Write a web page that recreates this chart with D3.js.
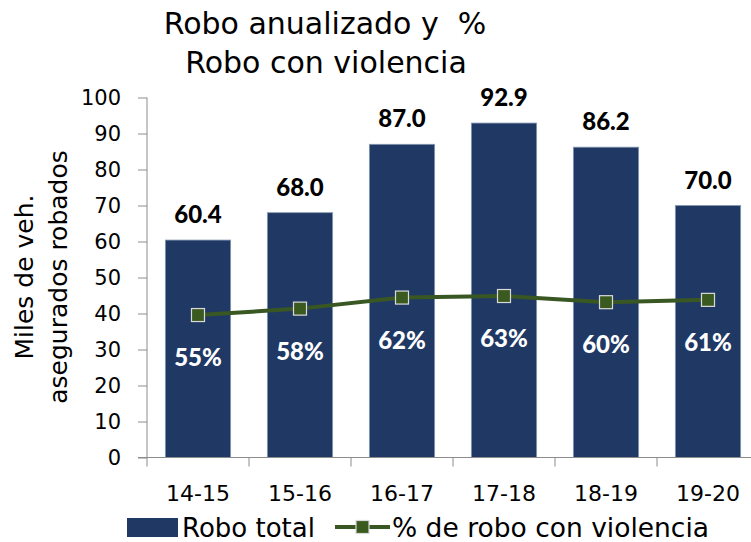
<!DOCTYPE html>
<html>
<head>
<meta charset="utf-8">
<script src="https://cdn.jsdelivr.net/npm/d3@7"></script>
<style>
  body { margin: 0; background: #fff; }
  svg { display: block; }
  text { font-family: "DejaVu Sans", sans-serif; white-space: pre; }
  text.num { font-family: "Lato", sans-serif; font-weight: 900; }
</style>
</head>
<body>
<div id="chart"></div>
<script>
// data
var periods = ['14-15', '15-16', '16-17', '17-18', '18-19', '19-20'];
var roboTotal = [60.4, 68.0, 87.0, 92.9, 86.2, 70.0];
var pctViolencia = [0.554, 0.579, 0.622, 0.628, 0.604, 0.613];
var yTicks = [0, 10, 20, 30, 40, 50, 60, 70, 80, 90, 100];

var width = 751, height = 542;
var margin = {top: 97.5, left: 147, bottom: 84.5};
var plotRight = 759;

var svg = d3.select('#chart')
    .append('svg')
    .attr('width', width)
    .attr('height', height);

var x = d3.scaleBand()
    .domain(periods)
    .range([margin.left, plotRight])
    .paddingInner(0.36)
    .paddingOuter(0.18);

var y = d3.scaleLinear()
    .domain([0, 100])
    .range([height - margin.bottom, margin.top]);

// hidden secondary axis for the percent line
var y2 = d3.scaleLinear()
    .domain([0, 1.4])
    .range([height - margin.bottom, margin.top]);

// title
var title = svg.append('text')
    .attr('text-anchor', 'middle')
    .attr('font-size', 30)
    .attr('fill', '#000');
title.append('tspan').attr('x', 325).attr('y', 34).text('Robo anualizado y  %');
title.append('tspan').attr('x', 326).attr('y', 73).text('Robo con violencia');

// y axis
var yAxis = svg.append('g')
    .attr('transform', 'translate(' + margin.left + ',0)')
    .call(d3.axisLeft(y).tickValues(yTicks).tickSize(9).tickPadding(17));
yAxis.select('.domain').attr('stroke', '#8c8c8c').attr('d', 'M0,' + y(100) + 'V' + y(0));
yAxis.selectAll('.tick line').attr('stroke', '#8c8c8c');
yAxis.selectAll('.tick text')
    .attr('font-size', 21)
    .attr('fill', '#000');

// y axis title
var yTitle = svg.append('text')
    .attr('transform', 'translate(0,' + 277 + ') rotate(-90)')
    .attr('text-anchor', 'middle')
    .attr('font-size', 25)
    .attr('fill', '#000');
yTitle.append('tspan').attr('x', 0).attr('y', 33).text('Miles de veh.');
yTitle.append('tspan').attr('x', 0).attr('y', 67).text('asegurados robados');

// bars
svg.selectAll('.bar')
    .data(roboTotal)
    .enter()
    .append('rect')
    .attr('class', 'bar')
    .attr('x', (d, i) => x(periods[i]))
    .attr('y', d => y(d))
    .attr('width', x.bandwidth())
    .attr('height', d => y(0) - y(d))
    .attr('fill', '#203864')
    .attr('stroke', '#8497b0')
    .attr('stroke-width', 0.8);

// x axis (ticks between categories)
var xAxisG = svg.append('g');
xAxisG.append('line')
    .attr('x1', margin.left - 9)
    .attr('x2', plotRight)
    .attr('y1', y(0))
    .attr('y2', y(0))
    .attr('stroke', '#8c8c8c');
var step = x.step();
var bounds = periods.map((p, i) => margin.left + i * step).concat([plotRight]);
xAxisG.selectAll('.xtick')
    .data(bounds)
    .enter()
    .append('line')
    .attr('x1', d => d)
    .attr('x2', d => d)
    .attr('y1', y(0))
    .attr('y2', y(0) + 9)
    .attr('stroke', '#8c8c8c');
xAxisG.selectAll('.xlabel')
    .data(periods)
    .enter()
    .append('text')
    .attr('x', d => x(d) + x.bandwidth() / 2)
    .attr('y', 501)
    .attr('text-anchor', 'middle')
    .attr('font-size', 22)
    .attr('fill', '#000')
    .text(d => d);

// bar value labels
svg.selectAll('.vlabel')
    .data(roboTotal)
    .enter()
    .append('text')
    .attr('class', 'num')
    .attr('x', (d, i) => x(periods[i]) + x.bandwidth() / 2)
    .attr('y', d => y(d) - 17)
    .attr('text-anchor', 'middle')
    .attr('font-size', 24)
    .attr('fill', '#000')
    .text(d => d.toFixed(1));

// percent line
var line = d3.line()
    .x((d, i) => x(periods[i]) + x.bandwidth() / 2)
    .y(d => y2(d));

svg.append('path')
    .datum(pctViolencia)
    .attr('d', line)
    .attr('fill', 'none')
    .attr('stroke', '#385723')
    .attr('stroke-width', 4);

svg.selectAll('.marker')
    .data(pctViolencia)
    .enter()
    .append('rect')
    .attr('x', (d, i) => x(periods[i]) + x.bandwidth() / 2 - 6.5)
    .attr('y', d => y2(d) - 6.5)
    .attr('width', 13)
    .attr('height', 13)
    .attr('fill', '#3b5a1f')
    .attr('stroke', '#d9d9d9')
    .attr('stroke-width', 1.2);

svg.selectAll('.plabel')
    .data(pctViolencia)
    .enter()
    .append('text')
    .attr('class', 'num')
    .attr('x', (d, i) => x(periods[i]) + x.bandwidth() / 2)
    .attr('y', d => y2(d) + 51)
    .attr('text-anchor', 'middle')
    .attr('font-size', 24)
    .attr('fill', '#fff')
    .text(d => Math.round(d * 100) + '%');

// legend
var legend = svg.append('g');
legend.append('rect')
    .attr('x', 127)
    .attr('y', 518)
    .attr('width', 51)
    .attr('height', 19)
    .attr('fill', '#203864');
legend.append('text')
    .attr('x', 182)
    .attr('y', 537)
    .attr('font-size', 26)
    .attr('fill', '#000')
    .text('Robo total');
legend.append('line')
    .attr('x1', 335)
    .attr('x2', 390)
    .attr('y1', 527)
    .attr('y2', 527)
    .attr('stroke', '#385723')
    .attr('stroke-width', 4);
legend.append('rect')
    .attr('x', 356)
    .attr('y', 520.5)
    .attr('width', 13)
    .attr('height', 13)
    .attr('fill', '#3b5a1f')
    .attr('stroke', '#d9d9d9')
    .attr('stroke-width', 1.2);
legend.append('text')
    .attr('x', 392)
    .attr('y', 537)
    .attr('font-size', 26.5)
    .attr('fill', '#000')
    .text('% de robo con violencia');
</script>
</body>
</html>
